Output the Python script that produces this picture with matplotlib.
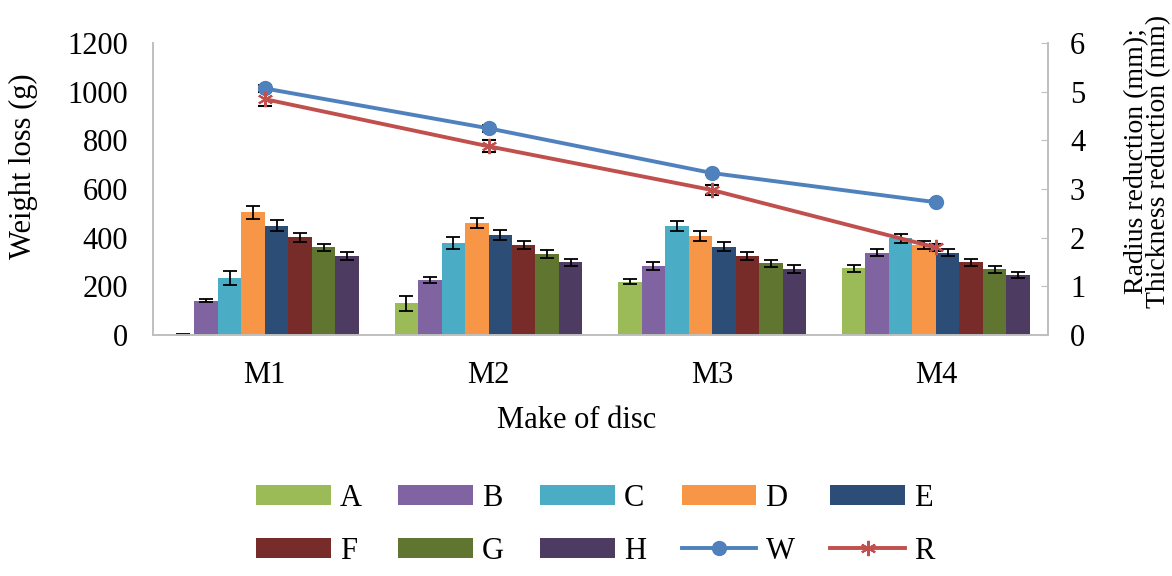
import matplotlib
matplotlib.use("Agg")
import matplotlib.pyplot as plt
from matplotlib.lines import Line2D
import numpy as np

plt.rcParams['font.family'] = ['Liberation Serif', 'DejaVu Serif']

makes = ['M1', 'M2', 'M3', 'M4']
series = ['A', 'B', 'C', 'D', 'E', 'F', 'G', 'H']
colors = ['#9BBB59', '#8064A2', '#4BACC6', '#F79646', '#2C4D75', '#772C2A', '#5F7530', '#4D3B62']

# weight loss (g) per make, one list per series
A = [3, 130, 219, 274]
B = [141, 226, 284, 338]
C = [235, 380, 448, 398]
D = [504, 462, 407, 370]
E = [449, 411, 363, 338]
F = [401, 370, 325, 299]
G = [360, 333, 295, 270]
H = [325, 299, 271, 247]
bar_vals = [A, B, C, D, E, F, G, H]

A_err = [2, 32, 10, 14]
B_err = [5, 12, 15, 15]
C_err = [29, 25, 20, 18]
D_err = [27, 20, 22, 15]
E_err = [22, 20, 18, 15]
F_err = [18, 18, 18, 15]
G_err = [16, 16, 15, 14]
H_err = [16, 15, 15, 14]
bar_errs = [A_err, B_err, C_err, D_err, E_err, F_err, G_err, H_err]

# radius / thickness reduction (mm)
W = [5.07, 4.25, 3.33, 2.73]
R = [4.85, 3.88, 2.98, 1.80]
W_err = [0.08, 0.07, 0.05, 0.04]
R_err = [0.15, 0.12, 0.10, 0.08]

W_COLOR = '#4F81BD'
R_COLOR = '#C0504D'
STAR = (6, 2, 0)

fig = plt.figure(figsize=(11.72, 5.76), dpi=100)
ax = fig.add_axes([0.1305, 0.4184, 0.7635, 0.5066])
ax2 = ax.twinx()

x = np.arange(len(makes))
width = 0.105
bar_handles = []
for i, (vals, errs) in enumerate(zip(bar_vals, bar_errs)):
    b = ax.bar(x + (i - 3.5) * width, vals, width, color=colors[i], label=series[i],
               yerr=errs, capsize=5, error_kw=dict(ecolor='black', elinewidth=1.3, capthick=1.3),
               zorder=2)
    bar_handles.append(b)

ax2.errorbar(x, W, yerr=W_err, color=W_COLOR, lw=2.8, marker='o', ms=10,
             ecolor='black', elinewidth=1.2, capsize=5, capthick=1.2, zorder=3)
ax2.errorbar(x, R, yerr=R_err, color=R_COLOR, lw=2.8, marker=STAR, ms=11, mew=1.5,
             ecolor='black', elinewidth=1.2, capsize=5, capthick=1.2, zorder=3)

ax.set_xlim(-0.5, 3.5)
ax.set_ylim(0, 1200)
ax.set_yticks(range(0, 1201, 200))
ax2.set_ylim(0, 6)
ax2.set_yticks(range(0, 7))
ax.set_xticks(x)
ax.set_xticklabels(makes)

for a in (ax, ax2):
    for s in a.spines.values():
        s.set_color('#BFBFBF')
        s.set_linewidth(1.2)
    a.spines['top'].set_visible(False)
ax.tick_params(axis='y', labelsize=22, length=0, pad=18)
ax.tick_params(axis='x', labelsize=22, length=0, pad=19)
ax2.tick_params(axis='y', labelsize=22, direction='in', length=5, color='#BFBFBF', pad=16)

ax.set_ylabel('Weight loss (g)', fontsize=22)
ax.yaxis.set_label_coords(-0.128, 0.58)
ax.set_xlabel('Make of disc', fontsize=22)
ax.xaxis.set_label_coords(0.474, -0.243)

fig.text(0.979, 0.72, 'Radius reduction (mm);\nThickness reduction (mm)', rotation=90,
         ha='center', va='center', multialignment='center', fontsize=20, linespacing=0.85)

w_handle = Line2D([], [], color=W_COLOR, lw=2.8, marker='o', ms=10)
r_handle = Line2D([], [], color=R_COLOR, lw=2.8, marker=STAR, ms=11, mew=1.5)
handles = bar_handles + [w_handle, r_handle]
labels = series + ['W', 'R']
order = [0, 5, 1, 6, 2, 7, 3, 8, 4, 9]
fig.legend([handles[i] for i in order], [labels[i] for i in order], ncol=5,
           loc='center', bbox_to_anchor=(0.508, 0.089), frameon=False, fontsize=22,
           handlelength=2.45, handleheight=0.65, handletextpad=0.3, columnspacing=1.17,
           labelspacing=0.8)

fig.savefig('out.png', dpi=100)
